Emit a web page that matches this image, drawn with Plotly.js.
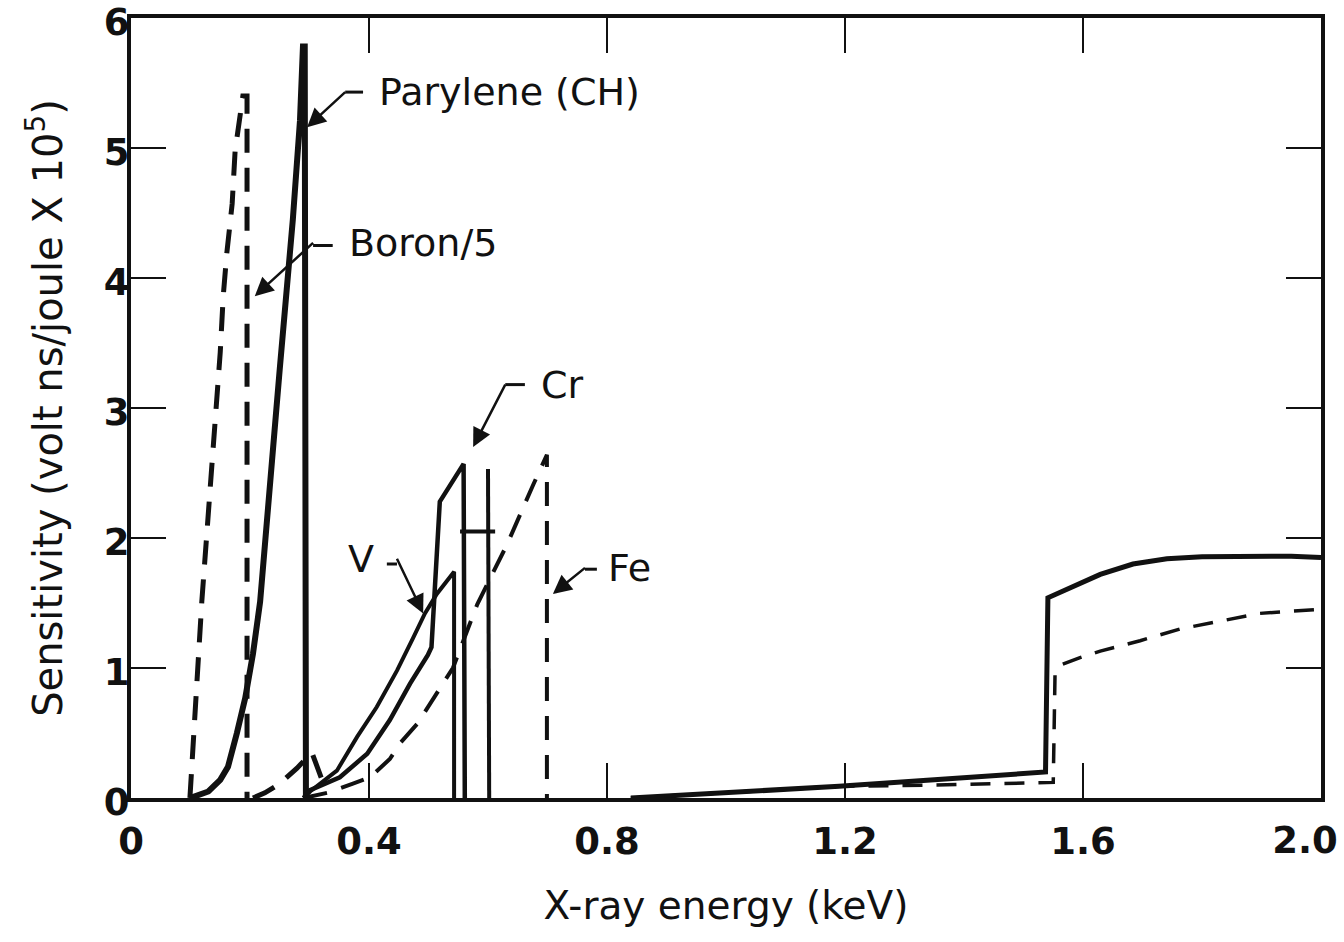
<!DOCTYPE html>
<html><head><meta charset="utf-8">
<script src="https://cdn.plot.ly/plotly-3.0.1.min.js"></script>
<style>html,body{margin:0;padding:0;background:#fff}#chart{width:1344px;height:942px}</style>
</head><body><div id="chart"></div>
<script>
// ---- data ----
const boronX = [0.099, 0.119, 0.150, 0.155, 0.161, 0.170, 0.175, 0.183, 0.188, 0.195, 0.195, null, 0.205, 0.225, 0.250, 0.279, 0.304, 0.321];
const boronY = [0, 1.51, 3.43, 3.86, 4.19, 4.57, 4.98, 5.26, 5.40, 5.40, 0, null, 0, 0.04, 0.11, 0.23, 0.35, 0.14];

const parX = [0.099, 0.130, 0.150, 0.163, 0.178, 0.192, 0.205, 0.217, 0.250, 0.264, 0.272, 0.284, 0.289, 0.292, 0.294];
const parY = [0, 0.05, 0.14, 0.24, 0.50, 0.77, 1.11, 1.51, 3.30, 3.99, 4.45, 5.21, 5.78, 5.78, 0];

const vX = [0.290, 0.301, 0.346, 0.380, 0.413, 0.447, 0.474, 0.494, 0.514, 0.543, 0.543];
const vY = [0, 0.05, 0.21, 0.47, 0.70, 0.98, 1.23, 1.42, 1.57, 1.74, 0];

const crX = [0.290, 0.301, 0.351, 0.397, 0.435, 0.469, 0.499, 0.505, 0.519, 0.559, 0.561];
const crY = [0, 0.06, 0.16, 0.34, 0.60, 0.88, 1.10, 1.16, 2.28, 2.57, 0];

const crExtraX = [0.553, 0.612, null, 0.600, 0.602];
const crExtraY = [2.05, 2.05, null, 2.53, 0];

const feX = [0.290, 0.330, 0.373, 0.402, 0.435, 0.452, 0.481, 0.503, 0.524, 0.541, 0.582, 0.595, 0.632, 0.676, 0.699, 0.699];
const feY = [0, 0.04, 0.11, 0.16, 0.30, 0.42, 0.57, 0.73, 0.88, 1.00, 1.49, 1.61, 1.95, 2.41, 2.64, 0];

const hiSolidX = [0.840, 1.000, 1.190, 1.350, 1.537, 1.541, 1.583, 1.629, 1.684, 1.741, 1.800, 1.852, 1.950, 2.000];
const hiSolidY = [0, 0.04, 0.09, 0.14, 0.20, 1.54, 1.63, 1.72, 1.80, 1.84, 1.855, 1.86, 1.86, 1.85];

const hiDashX = [0.840, 1.000, 1.190, 1.350, 1.550, 1.553, 1.566, 1.595, 1.629, 1.696, 1.763, 1.830, 1.897, 1.993];
const hiDashY = [0, 0.04, 0.09, 0.10, 0.12, 0.96, 1.03, 1.08, 1.13, 1.21, 1.30, 1.36, 1.42, 1.45];

const xTickVals = [0, 0.4, 0.8, 1.2, 1.6, 2.0];
const xTickText = ['0', '0.4', '0.8', '1.2', '1.6', '2.0'];
const yTickVals = [0, 1, 2, 3, 4, 5, 6];
const yTickText = ['0', '1', '2', '3', '4', '5', '6'];

const labels = ['Parylene (CH)', 'Boron/5', 'Cr', 'V', 'Fe'];
const xTitle = 'X-ray energy (keV)';
const yTitle = 'Sensitivity (volt ns/joule X 10<sup>5</sup>)';

// ---- styling ----
const INK = '#111';
const FONT = 'DejaVu Sans, Liberation Sans, Arial, sans-serif';
const dashed = '24px,15px';

const traces = [
  {name: 'Boron/5', x: boronX, y: boronY, mode: 'lines', line: {color: INK, width: 5, dash: dashed}},
  {name: 'Parylene (CH)', x: parX, y: parY, mode: 'lines', line: {color: INK, width: 6}},
  {name: 'V', x: vX, y: vY, mode: 'lines', line: {color: INK, width: 4}},
  {name: 'Cr', x: crX, y: crY, mode: 'lines', line: {color: INK, width: 4.5}},
  {name: 'Cr', x: crExtraX, y: crExtraY, mode: 'lines', line: {color: INK, width: 4}, showlegend: false},
  {name: 'Fe', x: feX, y: feY, mode: 'lines', line: {color: INK, width: 4, dash: dashed}},
  {name: 'solid', x: hiSolidX, y: hiSolidY, mode: 'lines', xaxis: 'x2', line: {color: INK, width: 5}},
  {name: 'dashed', x: hiDashX, y: hiDashY, mode: 'lines', xaxis: 'x2', line: {color: INK, width: 3.5, dash: '20px,14px'}}
];

const tickFont = {family: FONT, size: 37, color: INK, weight: 'bold'};
const labFont = {family: FONT, size: 38, color: INK};

function leader(x0, x1, y) {
  return {type: 'line', xref: 'x', yref: 'y', x0: x0, x1: x1, y0: y, y1: y, line: {color: INK, width: 3}};
}
// text label whose arrow starts at the kink (tail) of the leader and ends at the curve (tip)
function callout(t, tipX, tipY, tailX, tailY, anchor, pad) {
  return {x: tipX, y: tipY, ax: tailX, ay: tailY, xref: 'x', yref: 'y', axref: 'x', ayref: 'y',
          text: t, font: labFont, xanchor: anchor, yanchor: 'middle', borderpad: pad,
          showarrow: true, arrowhead: 2, arrowsize: 1.5, arrowwidth: 2.5, arrowcolor: INK, standoff: 0};
}

const layout = {
  width: 1344, height: 942,
  margin: {l: 131, r: 23, t: 18, b: 144},
  paper_bgcolor: '#fff', plot_bgcolor: '#fff',
  showlegend: false,
  xaxis: {
    range: [0, 2.0], showgrid: false, zeroline: false,
    showline: true, linewidth: 4, linecolor: INK, mirror: 'ticks',
    ticks: 'inside', ticklen: 35, tickwidth: 2.5, tickcolor: INK,
    tickvals: xTickVals.slice(0, 5), ticktext: xTickText.slice(0, 5),
    tickfont: tickFont, ticklabelstandoff: 8, ticklabeloverflow: 'allow',
    title: {text: xTitle, font: {family: FONT, size: 39, color: INK}, standoff: 30}
  },
  xaxis2: {
    overlaying: 'x', matches: 'x', anchor: 'y', side: 'bottom',
    showgrid: false, zeroline: false, showline: false, ticks: '',
    tickvals: xTickVals.slice(5), ticktext: xTickText.slice(5),
    tickfont: tickFont, ticklabelstandoff: 17, ticklabelshift: -16, ticklabeloverflow: 'allow'
  },
  yaxis: {
    range: [0, 6], showgrid: false, zeroline: false,
    showline: true, linewidth: 4, linecolor: INK, mirror: 'ticks',
    ticks: 'inside', ticklen: 35, tickwidth: 2.5, tickcolor: INK,
    tickvals: yTickVals, ticktext: yTickText,
    tickfont: tickFont, ticklabelstandoff: -10, ticklabelshift: 4, ticklabeloverflow: 'allow',
    title: {text: yTitle, font: {family: FONT, size: 40, color: INK}, standoff: 30}
  },
  shapes: [
    leader(0.360, 0.390, 5.43),
    leader(0.306, 0.339, 4.25),
    leader(0.629, 0.662, 3.18),
    leader(0.430, 0.447, 1.80),
    leader(0.763, 0.783, 1.76)
  ],
  annotations: [
    callout(labels[0], 0.296, 5.16, 0.360, 5.43, 'left', 33),
    callout(labels[1], 0.208, 3.86, 0.306, 4.27, 'left', 35),
    callout(labels[2], 0.575, 2.70, 0.629, 3.18, 'left', 35),
    callout(labels[3], 0.491, 1.42, 0.447, 1.84, 'right', 22),
    callout(labels[4], 0.709, 1.57, 0.763, 1.77, 'left', 22)
  ]
};

Plotly.newPlot('chart', traces, layout, {staticPlot: true, displayModeBar: false});
</script></body></html>
